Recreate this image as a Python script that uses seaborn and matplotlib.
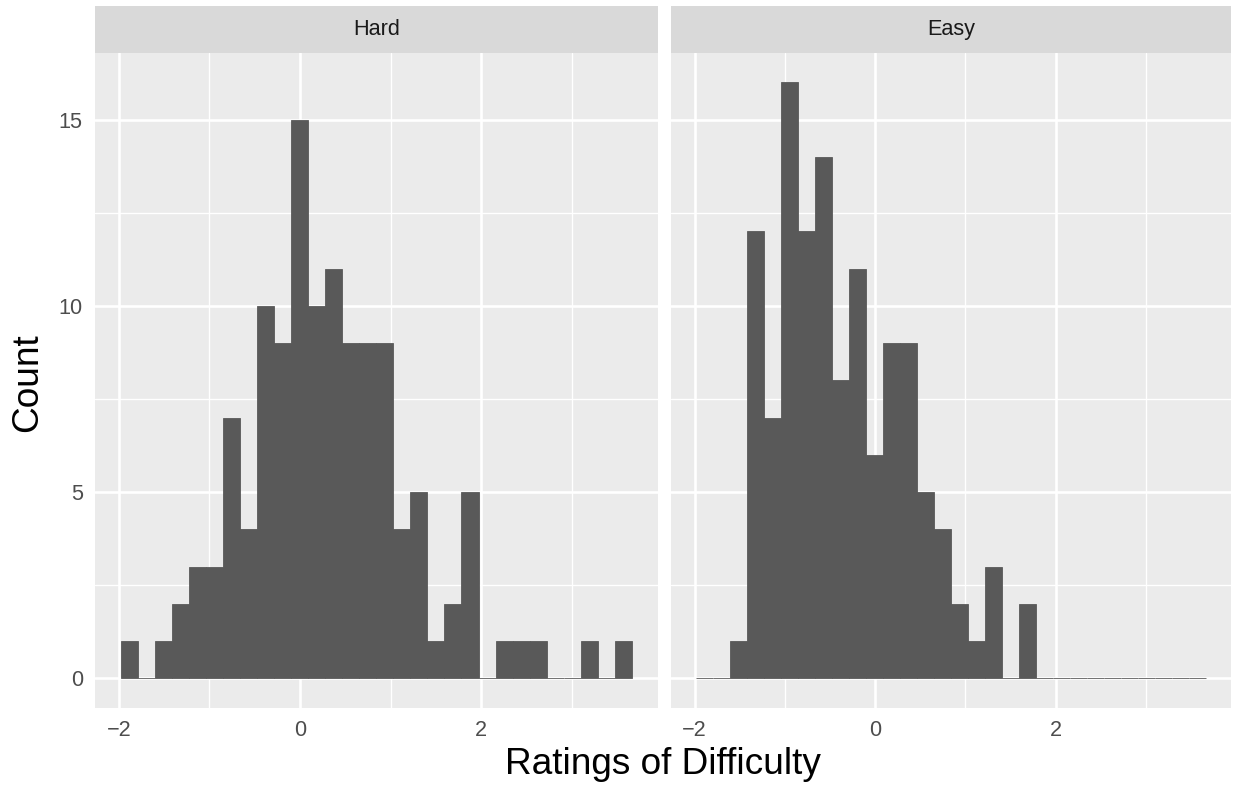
import numpy as np
import pandas as pd
import matplotlib
matplotlib.use('Agg')
import matplotlib.pyplot as plt
import seaborn as sns

# データ (30 bins, ggplot の geom_histogram から読み取り)
panels = ['Hard', 'Easy']
count_hard = [1, 0, 1, 2, 3, 3, 7, 4, 10, 9,
              15, 10, 11, 9, 9, 9, 4, 5, 1, 2,
              5, 0, 1, 1, 1, 0, 0, 1, 0, 1]
count_easy = [0, 0, 1, 12, 7, 16, 12, 14, 8, 11,
              6, 9, 9, 5, 4, 2, 1, 3, 0, 2,
              0, 0, 0, 0, 0, 0, 0, 0, 0, 0]
bin_lo, bin_hi, n_bins = -1.98, 3.663, 30
x_ticks = [-2, 0, 2]
y_ticks = [0, 5, 10, 15]
x_label = 'Ratings of Difficulty'
y_label = 'Count'

edges = np.linspace(bin_lo, bin_hi, n_bins + 1)
centers = (edges[:-1] + edges[1:]) / 2
df = pd.DataFrame({
    'panel': ['Hard'] * n_bins + ['Easy'] * n_bins,
    'x': list(centers) * 2,
    'count': count_hard + count_easy,
})

# ggplot (7x4.5in) の見た目を 100dpi で再現するための倍率
k = 1236 / 7 / 100

sns.set_style('white')
plt.rcParams['font.family'] = ['Liberation Sans', 'DejaVu Sans']

fig = plt.figure(figsize=(12.36, 7.94), dpi=100)
W, H = 1236, 794
panel_x = [(95, 657.5), (671, 1231)]
top, bottom, strip_top = 52.7, 708, 6

span = bin_hi - bin_lo
xlim = (bin_lo - 0.05 * span, bin_hi + 0.05 * span)
ylim = (-0.8, 16.8)

for i, (name, (x0, x1)) in enumerate(zip(panels, panel_x)):
    ax = fig.add_axes([x0 / W, 1 - bottom / H, (x1 - x0) / W, (bottom - top) / H])
    ax.set_facecolor('#EBEBEB')
    for s in ax.spines.values():
        s.set_visible(False)
    # grid
    for v in [-1, 1, 3]:
        ax.axvline(v, color='white', lw=0.94, zorder=0)
    for v in [2.5, 7.5, 12.5]:
        ax.axhline(v, color='white', lw=0.94, zorder=0)
    for v in x_ticks:
        ax.axvline(v, color='white', lw=1.88, zorder=0)
    for v in y_ticks:
        ax.axhline(v, color='white', lw=1.88, zorder=0)

    sub = df[df['panel'] == name]
    sns.histplot(data=sub, x='x', weights='count', bins=n_bins,
                 binrange=(bin_lo, bin_hi), ax=ax,
                 color='#595959', alpha=1, edgecolor='#595959', linewidth=0.6,
                 zorder=2)

    ax.set_xlim(*xlim)
    ax.set_ylim(*ylim)
    ax.set_xticks(x_ticks)
    ax.set_xticklabels(['\u22122', '0', '2'])
    ax.set_yticks(y_ticks)
    ax.tick_params(axis='both', direction='out', length=2.75 * k, width=1.88,
                   color='#333333', labelcolor='#4D4D4D', labelsize=8.8 * k,
                   pad=2.2 * k)
    ax.set_xlabel('')
    ax.set_ylabel('')
    if i == 1:
        ax.tick_params(axis='y', left=False, labelleft=False)

    # strip
    sax = fig.add_axes([x0 / W, 1 - top / H, (x1 - x0) / W, (top - strip_top) / H])
    sax.set_facecolor('#D9D9D9')
    sax.set_xticks([])
    sax.set_yticks([])
    for s in sax.spines.values():
        s.set_visible(False)
    sax.text(0.5, 0.5, name, ha='center', va='center', fontsize=8.8 * k,
             color='#1A1A1A', transform=sax.transAxes)

fig.text(663 / W, 1 - 765 / H, x_label, ha='center', va='center',
         fontsize=15.1 * k, color='black')
fig.text(28 / W, 1 - 383 / H, y_label, ha='center', va='center',
         rotation=90, fontsize=15.1 * k, color='black')

plt.savefig('out.png', dpi=100)
